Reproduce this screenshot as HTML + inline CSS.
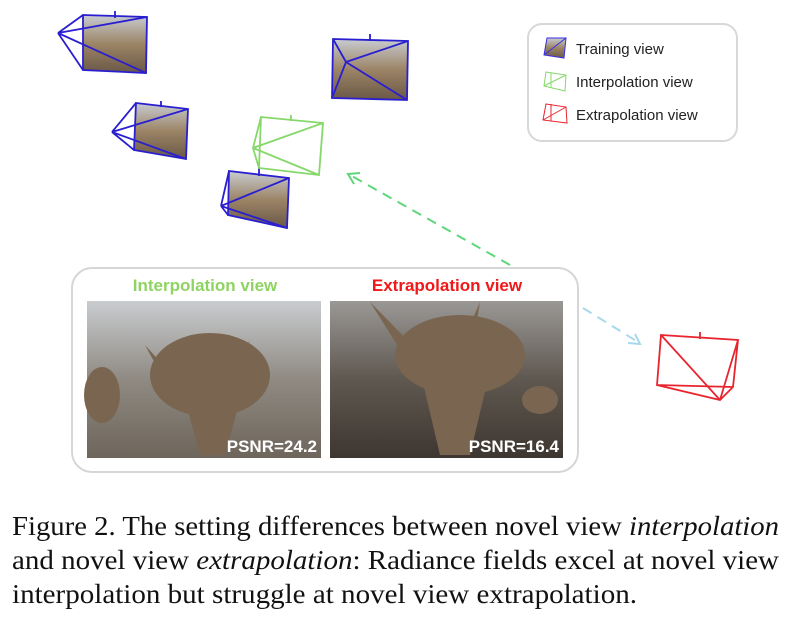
<!DOCTYPE html>
<html><head><meta charset="utf-8"><style>
html,body{margin:0;padding:0;background:#fff;width:789px;height:621px;overflow:hidden}
</style></head><body>
<svg width="789" height="621" viewBox="0 0 789 621" xmlns="http://www.w3.org/2000/svg">
<defs>
<linearGradient id="bg1" x1="0" y1="0" x2="0" y2="1"><stop offset="0" stop-color="#c9ccd0"/><stop offset="0.5" stop-color="#8f8a82"/><stop offset="1" stop-color="#6e655b"/></linearGradient>
<linearGradient id="bg2" x1="0" y1="0" x2="0" y2="1"><stop offset="0" stop-color="#9a9896"/><stop offset="0.5" stop-color="#5f5850"/><stop offset="1" stop-color="#3e3630"/></linearGradient>
<linearGradient id="thumb" x1="0" y1="0" x2="0" y2="1"><stop offset="0" stop-color="#c8ccd2"/><stop offset="0.5" stop-color="#9c8466"/><stop offset="1" stop-color="#6a5846"/></linearGradient>
</defs>
<polygon points="83,15 147,17 146,73 83,70" fill="url(#thumb)"/>
<polygon points="333,39 408,41 407,100 332,98" fill="url(#thumb)"/>
<polygon points="136,103 188,109 186,159 134,150" fill="url(#thumb)"/>
<polygon points="229,171 289,178 287,228 228,215" fill="url(#thumb)"/>
<g fill="none" stroke="#2a1fd0" stroke-width="1.8">
<polygon points="83,15 147,17 146,73 83,70"/><path d="M58,33 L83,15 M58,33 L147,17 M58,33 L146,73 M58,33 L83,70 M115,11 V18"/>
<polygon points="333,39 408,41 407,100 332,98"/><path d="M346,62 L333,39 M346,62 L408,41 M346,62 L407,100 M346,62 L332,98 M370,34 V41"/>
<polygon points="136,103 188,109 186,159 134,150"/><path d="M112,132 L136,103 M112,132 L188,109 M112,132 L186,159 M112,132 L134,150 M161,101 V107"/>
<polygon points="229,171 289,178 287,228 228,215"/><path d="M221,206 L229,171 M221,206 L289,178 M221,206 L287,228 M221,206 L228,215 M259,168 V176"/>
</g>
<g fill="none" stroke="#86d86a" stroke-width="1.8">
<path d="M261,117 L323,123 L319,175 L259,168 Z M253,148 L261,117 M253,148 L323,123 M253,148 L319,175 M253,148 L259,168 M291,115 V121"/>
</g>
<g fill="none" stroke="#e8252e" stroke-width="1.8">
<path d="M661,335 L738,340 L733,387 L720,400 L657,385 Z M661,335 L720,400 M738,340 L720,400 M657,385 L733,387 M700,332 V339"/>
</g>
<path d="M510,265 L350,175" stroke="#5fd67a" stroke-width="2" stroke-dasharray="10,7" fill="none"/>
<path d="M360,173 L348,174 L354,184" stroke="#5fd67a" stroke-width="2" fill="none"/>
<path d="M583,308 L638,342" stroke="#a8d8ec" stroke-width="2" stroke-dasharray="10,7" fill="none"/>
<path d="M628,343 L640,344 L635,334" stroke="#a8d8ec" stroke-width="2" fill="none"/>
<rect x="528" y="24" width="209" height="117" rx="14" fill="#fff" stroke="#d8d8d8" stroke-width="2"/>
<polygon points="547,38 566,38 564,58 544,55" fill="url(#thumb)"/>
<path d="M547,38 L566,38 L564,58 L544,55 Z M544,55 L566,38" stroke="#3a2fe0" fill="none" stroke-width="1"/>
<path d="M546,72 L566,75 L565,91 L544,86 Z M544,86 L566,75 M551,73 L551,88" stroke="#86d86a" fill="none" stroke-width="1"/>
<path d="M546,104 L566,107 L567,123 L543,120 Z M543,120 L566,107 M551,104 L551,121" stroke="#e8252e" fill="none" stroke-width="1"/>
<g style="font-family:'Liberation Sans',sans-serif" font-size="15" fill="#222">
<text x="576" y="54">Training view</text>
<text x="576" y="87">Interpolation view</text>
<text x="576" y="120">Extrapolation view</text>
</g>
<rect x="72" y="268" width="506" height="204" rx="20" fill="#fff" stroke="#d6d6d6" stroke-width="2"/>
<g style="font-family:'Liberation Sans',sans-serif" font-size="17" font-weight="bold" text-anchor="middle">
<text x="205" y="291" fill="#8fd462">Interpolation view</text>
<text x="447" y="291" fill="#f01818">Extrapolation view</text>
</g>
<rect x="87" y="301" width="234" height="157" fill="url(#bg1)"/>
<rect x="330" y="301" width="233" height="157" fill="url(#bg2)"/>
<g fill="#7a6650">
<ellipse cx="210" cy="375" rx="60" ry="42"/>
<path d="M145,345 L175,400 L190,395 Z M250,340 L220,395 L232,398 Z"/>
<path d="M185,400 L240,400 L225,455 L200,455 Z"/>
<ellipse cx="102" cy="395" rx="18" ry="28"/>
<ellipse cx="460" cy="355" rx="65" ry="40"/>
<path d="M370,302 L410,365 L425,358 Z M480,302 L455,360 L470,362 Z"/>
<path d="M420,370 L490,370 L470,455 L440,455 Z"/>
<ellipse cx="540" cy="400" rx="18" ry="14"/>
</g>
<g style="font-family:'Liberation Sans',sans-serif" font-size="17" font-weight="bold" fill="#fff" text-anchor="end">
<text x="317" y="452">PSNR=24.2</text>
<text x="559" y="452">PSNR=16.4</text>
</g>
<g style="font-family:'Liberation Serif','Times New Roman',serif" font-size="27" fill="#111">
<text x="12" y="535" textLength="767" lengthAdjust="spacingAndGlyphs">Figure 2. The setting differences between novel view <tspan font-style="italic">interpolation</tspan></text>
<text x="12" y="569" textLength="767" lengthAdjust="spacingAndGlyphs">and novel view <tspan font-style="italic">extrapolation</tspan>: Radiance fields excel at novel view</text>
<text x="12" y="603" textLength="625" lengthAdjust="spacingAndGlyphs">interpolation but struggle at novel view extrapolation.</text>
</g>
</svg>
</body></html>
